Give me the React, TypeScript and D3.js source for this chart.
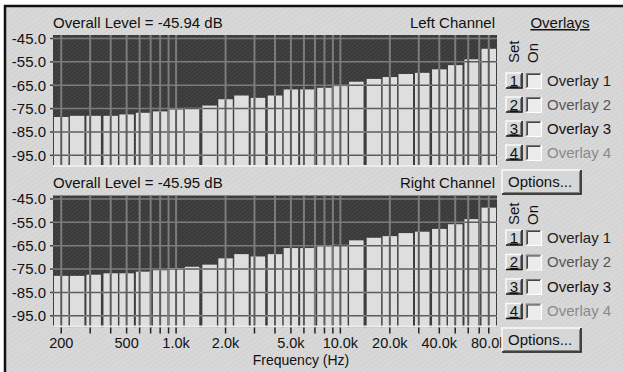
import React, { useEffect, useRef } from 'react';
import * as d3 from 'd3';

// 1/3-octave band centres (Hz)
const bands = [200, 250, 315, 400, 500, 630, 800, 1000, 1250, 1600, 2000, 2500, 3150, 4000, 5000, 6300, 8000, 10000, 12500, 16000, 20000, 25000, 31500, 40000, 50000, 63000, 80000];

// levels in dB
const leftLevels = [-78.6, -78.1, -78.1, -78.1, -77.5, -76.8, -76.2, -75.4, -74.7, -73.7, -71.0, -69.4, -70.4, -69.4, -66.8, -66.8, -66.1, -65.4, -63.5, -62.3, -61.5, -60.2, -59.7, -58.2, -56.4, -53.9, -49.4];
const rightLevels = [-77.9, -77.9, -77.4, -76.8, -76.8, -76.1, -75.5, -74.8, -74.0, -73.1, -70.4, -68.6, -69.6, -68.6, -66.0, -66.0, -65.3, -64.6, -62.7, -61.6, -60.9, -59.6, -59.0, -57.8, -55.8, -53.6, -48.7];

const yTicks = [-45, -55, -65, -75, -85, -95];
const xTickValues = [200, 500, 1000, 2000, 5000, 10000, 20000, 40000, 80000];
const xTickLabels = ['200', '500', '1.0k', '2.0k', '5.0k', '10.0k', '20.0k', '40.0k', '80.0k'];
const overlayNames = ['Overlay 1', 'Overlay 2', 'Overlay 3', 'Overlay 4'];
const overlayColors = ['#222', '#555', '#111', '#8a8a8a'];

const gridFreqs: number[] = [];
[100, 1000, 10000].forEach(dec => {
  for (let m = 1; m <= 9; m++) {
    const f = dec * m;
    if (f >= 200 && f <= 89000) gridFreqs.push(f);
  }
});

const W = 623;
const H = 372;
const FONT = '"Liberation Sans", Arial, sans-serif';

const App = () => {
  const svgRef = useRef<SVGSVGElement>(null);

  useEffect(() => {
    const svg = d3.select(svgRef.current);
    svg.selectAll('*').remove();

    const defs = svg.append('defs');
    const bgPat = defs.append('pattern')
      .attr('id', 'bgHatch')
      .attr('width', 4)
      .attr('height', 4)
      .attr('patternUnits', 'userSpaceOnUse')
      .attr('patternTransform', 'rotate(-35)');
    bgPat.append('rect').attr('width', 4).attr('height', 4).attr('fill', '#d4d4d4');
    bgPat.append('rect').attr('width', 4).attr('height', 1.5).attr('fill', '#dadada');

    const darkPat = defs.append('pattern')
      .attr('id', 'darkHatch')
      .attr('width', 3)
      .attr('height', 3)
      .attr('patternUnits', 'userSpaceOnUse')
      .attr('patternTransform', 'rotate(-40)');
    darkPat.append('rect').attr('width', 3).attr('height', 3).attr('fill', '#393939');
    darkPat.append('rect').attr('width', 3).attr('height', 1).attr('fill', '#474747');

    // page
    svg.append('rect').attr('width', W).attr('height', H).attr('fill', '#fff');
    svg.append('rect').attr('x', 5).attr('y', 6).attr('width', W - 5).attr('height', H - 6).attr('fill', 'url(#bgHatch)');
    svg.append('line').attr('x1', 4).attr('x2', W).attr('y1', 6).attr('y2', 6).attr('stroke', '#111').attr('stroke-width', 2.5);
    svg.append('line').attr('x1', 5).attr('x2', 5).attr('y1', 5).attr('y2', H).attr('stroke', '#111').attr('stroke-width', 2.5);

    const x = d3.scaleLog()
      .domain([200 / Math.pow(2, 1 / 6), 80000 * Math.pow(2, 1 / 6)])
      .range([53, 497]);

    const panels = [
      { levels: leftLevels, top: 35, bottom: 167, title: 'Overall Level = -45.94 dB', channel: 'Left Channel', titleY: 28, id: 'L' },
      { levels: rightLevels, top: 195.5, bottom: 327.5, title: 'Overall Level = -45.95 dB', channel: 'Right Channel', titleY: 188, id: 'R' },
    ];

    panels.forEach(p => {
      const y = d3.scaleLinear().domain([-43.5, -100]).range([p.top, p.bottom]);
      const g = svg.append('g');
      const [x0, x1] = x.range();

      g.append('text')
        .attr('x', x0).attr('y', p.titleY)
        .attr('font-family', FONT).attr('font-size', 15).attr('fill', '#111')
        .text(p.title);
      g.append('text')
        .attr('x', 495).attr('y', p.titleY)
        .attr('text-anchor', 'end')
        .attr('font-family', FONT).attr('font-size', 15).attr('fill', '#111')
        .text(p.channel);

      g.append('rect')
        .attr('x', x0).attr('y', p.top)
        .attr('width', x1 - x0).attr('height', p.bottom - p.top)
        .attr('fill', 'url(#darkHatch)');

      const drawGrid = (sel: any, color: string) => {
        sel.selectAll('line.v').data(gridFreqs).enter().append('line')
          .attr('x1', (d: number) => x(d)).attr('x2', (d: number) => x(d))
          .attr('y1', p.top).attr('y2', p.bottom)
          .attr('stroke', color).attr('stroke-width', 2);
        sel.selectAll('line.h').data(yTicks).enter().append('line')
          .attr('x1', x0).attr('x2', x1)
          .attr('y1', (d: number) => y(d)).attr('y2', (d: number) => y(d))
          .attr('stroke', color).attr('stroke-width', 1.5);
      };

      drawGrid(g.append('g'), '#7c7c7c');

      const barRect = (sel: any) => sel
        .attr('x', (_: number, i: number) => x(bands[i] / Math.pow(2, 1 / 6)) + 1)
        .attr('width', (_: number, i: number) => x(bands[i] * Math.pow(2, 1 / 6)) - x(bands[i] / Math.pow(2, 1 / 6)) - 2)
        .attr('y', (d: number) => y(d))
        .attr('height', (d: number) => p.bottom - y(d));

      const clip = defs.append('clipPath').attr('id', 'bars' + p.id);
      barRect(clip.selectAll('rect').data(p.levels).enter().append('rect'));

      barRect(g.append('g').selectAll('rect').data(p.levels).enter().append('rect'))
        .attr('fill', '#dedede');

      drawGrid(g.append('g').attr('clip-path', `url(#bars${p.id})`), '#5c5c5c');

      // light strip at the bottom of the plot
      g.append('line')
        .attr('x1', x0).attr('x2', x1)
        .attr('y1', p.bottom - 1).attr('y2', p.bottom - 1)
        .attr('stroke', '#ececec').attr('stroke-width', 2);

      // y axis labels
      g.selectAll('text.yl').data(yTicks).enter().append('text')
        .attr('x', 46).attr('y', d => y(d))
        .attr('dy', '0.36em')
        .attr('text-anchor', 'end')
        .attr('font-family', FONT).attr('font-size', 15).attr('fill', '#111')
        .text(d => d.toFixed(1));
      g.selectAll('line.yt').data(yTicks).enter().append('line')
        .attr('x1', 50).attr('x2', x0)
        .attr('y1', d => y(d)).attr('y2', d => y(d))
        .attr('stroke', '#444').attr('stroke-width', 1.5);
    });

    // bottom frequency axis
    const axisY = 327.5;
    svg.append('g').selectAll('line').data(gridFreqs).enter().append('line')
      .attr('x1', d => x(d)).attr('x2', d => x(d))
      .attr('y1', axisY).attr('y2', axisY + 6)
      .attr('stroke', '#222').attr('stroke-width', 1.5);
    svg.append('g').selectAll('text').data(xTickValues).enter().append('text')
      .attr('x', d => x(d)).attr('y', 348)
      .attr('text-anchor', 'middle')
      .attr('font-family', FONT).attr('font-size', 14.5).attr('fill', '#111')
      .text((_, i) => xTickLabels[i]);
    svg.append('text')
      .attr('x', 301).attr('y', 365)
      .attr('text-anchor', 'middle')
      .attr('font-family', FONT).attr('font-size', 14).attr('fill', '#111')
      .text('Frequency (Hz)');

    // overlay side panel
    const side = svg.append('g');
    side.append('text')
      .attr('x', 560).attr('y', 28)
      .attr('text-anchor', 'middle')
      .attr('font-family', FONT).attr('font-size', 15).attr('fill', '#111')
      .attr('text-decoration', 'underline')
      .text('Overlays');

    const button = (bx: number, by: number, bw: number, bh: number) => {
      const b = side.append('g');
      b.append('rect').attr('x', bx).attr('y', by).attr('width', bw).attr('height', bh).attr('fill', '#d6d6d6');
      b.append('path').attr('d', `M${bx},${by + bh} V${by} H${bx + bw}`).attr('fill', 'none').attr('stroke', '#fafafa').attr('stroke-width', 1.5);
      b.append('path').attr('d', `M${bx},${by + bh} H${bx + bw} V${by}`).attr('fill', 'none').attr('stroke', '#111').attr('stroke-width', 1.5);
      b.append('path').attr('d', `M${bx + 1.5},${by + bh - 1.5} H${bx + bw - 1.5} V${by + 1.5}`).attr('fill', 'none').attr('stroke', '#808080').attr('stroke-width', 1);
      return b;
    };

    const overlayBlock = (setTop: number, firstY: number, step: number) => {
      side.append('text')
        .attr('transform', `translate(519,${setTop + 25}) rotate(-90)`)
        .attr('font-family', FONT).attr('font-size', 15).attr('fill', '#111')
        .text('Set');
      side.append('text')
        .attr('transform', `translate(538,${setTop + 25}) rotate(-90)`)
        .attr('font-family', FONT).attr('font-size', 15).attr('fill', '#111')
        .text('On');
      overlayNames.forEach((name, i) => {
        const by = firstY + i * step;
        button(506, by, 16, 15);
        side.append('text')
          .attr('x', 514).attr('y', by + 12.5)
          .attr('text-anchor', 'middle')
          .attr('font-family', FONT).attr('font-size', 15).attr('fill', '#111')
          .attr('text-decoration', 'underline')
          .text(String(i + 1));
        // checkbox
        side.append('rect').attr('x', 526).attr('y', by).attr('width', 15).attr('height', 15).attr('fill', '#ececec');
        side.append('path').attr('d', `M526.5,${by + 15} V${by + 0.5} H541`).attr('fill', 'none').attr('stroke', '#777').attr('stroke-width', 1.2);
        side.append('path').attr('d', `M527.5,${by + 14} V${by + 1.5} H540`).attr('fill', 'none').attr('stroke', '#444').attr('stroke-width', 1);
        side.append('path').attr('d', `M526,${by + 15.5} H541.5 V${by}`).attr('fill', 'none').attr('stroke', '#fff').attr('stroke-width', 1.2);
        side.append('text')
          .attr('x', 547).attr('y', by + 12.5)
          .attr('font-family', FONT).attr('font-size', 15).attr('fill', overlayColors[i])
          .text(name);
      });
    };

    overlayBlock(38, 73, 24);
    overlayBlock(200, 230, 24.5);

    [170, 328].forEach(oy => {
      button(502, oy, 79, 24);
      side.append('text')
        .attr('x', 508).attr('y', oy + 17)
        .attr('font-family', FONT).attr('font-size', 15).attr('fill', '#111')
        .text('Options...');
    });
  }, []);

  return <svg ref={svgRef} width={W} height={H} style={{ position: 'absolute', left: 0, top: 0 }} />;
};

export default App;
